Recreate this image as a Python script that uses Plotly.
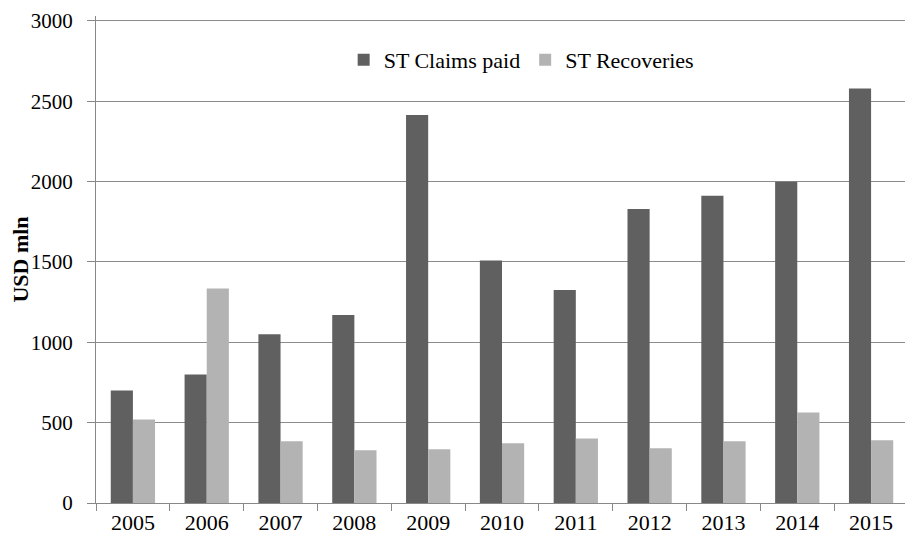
import plotly.graph_objects as go

years = ["2005", "2006", "2007", "2008", "2009", "2010", "2011", "2012", "2013", "2014", "2015"]
claims_paid = [700, 800, 1050, 1170, 2415, 1510, 1325, 1830, 1912, 2000, 2580]
recoveries = [520, 1335, 385, 328, 334, 372, 402, 340, 384, 563, 390]
y_ticks = [0, 500, 1000, 1500, 2000, 2500, 3000]

font_family = "'Liberation Serif', 'Times New Roman', 'DejaVu Serif', serif"

fig = go.Figure()
fig.add_trace(go.Bar(x=years, y=claims_paid, name="ST Claims paid",
                     marker=dict(color="#606060", line=dict(width=0))))
fig.add_trace(go.Bar(x=years, y=recoveries, name="ST Recoveries",
                     marker=dict(color="#b3b3b3", line=dict(width=0))))

fig.update_layout(
    width=905, height=529,
    margin=dict(l=88, r=5, t=8, b=34, autoexpand=False),
    paper_bgcolor="white", plot_bgcolor="white",
    barmode="group", bargap=0.4, bargroupgap=0,
    font=dict(family=font_family, size=22, color="#000000"),
    showlegend=True,
    legend=dict(orientation="h", x=0.305, y=0.91, xanchor="left", yanchor="middle",
                font=dict(size=22, family=font_family), bgcolor="rgba(0,0,0,0)", itemwidth=30,
                traceorder="normal"),
    xaxis=dict(type="category", showgrid=False, showline=True, linecolor="#888888", linewidth=1,
               ticks="outside", tickson="boundaries", ticklen=7, tickcolor="#888888",
               ticklabelstandoff=0,
               tickfont=dict(size=22, family=font_family)),
    yaxis=dict(range=[0, 3031], tickmode="array", tickvals=y_ticks,
               ticklabeloverflow="allow",
               showgrid=True, gridcolor="#8c8c8c", gridwidth=1,
               showline=True, linecolor="#888888", linewidth=1, zeroline=False,
               ticks="outside", ticklen=8, tickcolor="#888888",
               ticklabelstandoff=10,
               tickfont=dict(size=21, family=font_family),
               title=dict(text="<b>USD mln</b>", font=dict(size=22, family=font_family), standoff=4)),
)

fig.write_html("out.html")
